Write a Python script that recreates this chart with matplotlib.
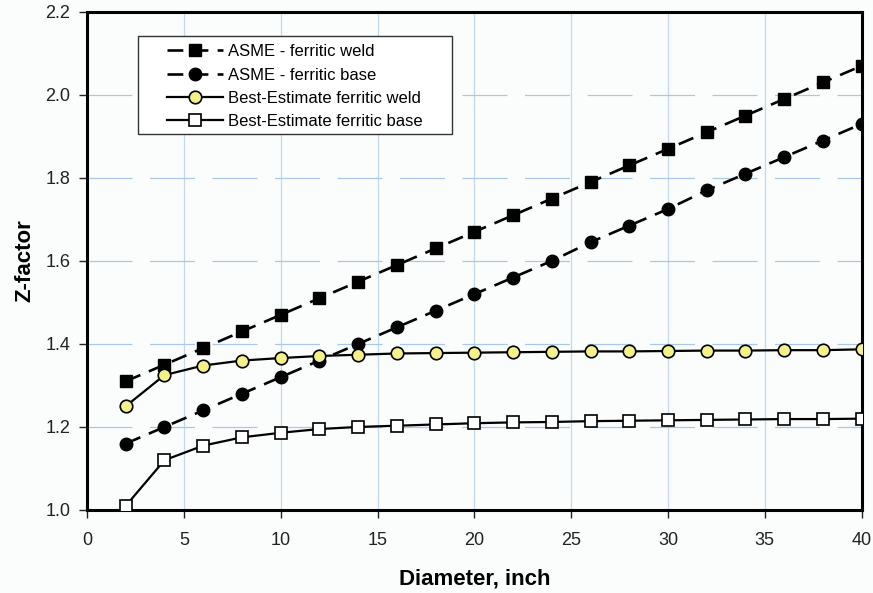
import matplotlib.pyplot as plt
import numpy as np
from matplotlib.patches import Rectangle

plt.rcParams['font.family'] = ['Liberation Sans', 'DejaVu Sans']

diameter = [2, 4, 6, 8, 10, 12, 14, 16, 18, 20, 22, 24, 26, 28, 30, 32, 34, 36, 38, 40]
asme_weld = [1.31, 1.35, 1.39, 1.43, 1.47, 1.51, 1.55, 1.59, 1.63, 1.67,
             1.71, 1.75, 1.79, 1.83, 1.87, 1.91, 1.95, 1.99, 2.03, 2.07]
asme_base = [1.16, 1.20, 1.24, 1.28, 1.32, 1.36, 1.40, 1.44, 1.48, 1.52,
             1.56, 1.60, 1.645, 1.685, 1.725, 1.77, 1.81, 1.85, 1.89, 1.93]
be_weld = [1.25, 1.325, 1.348, 1.36, 1.366, 1.371, 1.374, 1.377, 1.378, 1.379,
           1.380, 1.381, 1.382, 1.382, 1.383, 1.384, 1.384, 1.385, 1.385, 1.387]
be_base = [1.01, 1.12, 1.155, 1.175, 1.186, 1.195, 1.200, 1.203, 1.206, 1.209,
           1.211, 1.212, 1.214, 1.215, 1.216, 1.217, 1.218, 1.219, 1.219, 1.220]

fig = plt.figure(figsize=(8.73, 5.93), dpi=100)
fig.patch.set_facecolor('#fbfcfc')
ax = fig.add_axes([0.0997, 0.140, 0.8873, 0.840])
ax.set_facecolor('#fbfdfd')

dash = (0, (6, 3.5))
ax.plot(diameter, asme_weld, color='black', lw=1.9, linestyle=dash, marker='s',
        ms=9, mfc='black', mec='black', label='ASME - ferritic weld', zorder=3)
ax.plot(diameter, asme_base, color='black', lw=1.9, linestyle=dash, marker='o',
        ms=9, mfc='black', mec='black', label='ASME - ferritic base', zorder=3)
ax.plot(diameter, be_weld, color='black', lw=1.6, marker='o', ms=9,
        mfc='#f4f08a', mec='black', mew=1.2, label='Best-Estimate ferritic weld', zorder=4)
ax.plot(diameter, be_base, color='black', lw=1.6, marker='s', ms=9,
        mfc='white', mec='black', mew=1.2, label='Best-Estimate ferritic base', zorder=4)

ax.set_xlim(0, 40)
ax.set_ylim(1.0, 2.2)
ax.set_xticks(np.arange(0, 41, 5))
ax.set_yticks(np.arange(1.0, 2.21, 0.2))
ax.yaxis.set_major_formatter(plt.FormatStrFormatter('%.1f'))
ax.grid(True, axis='y', color='#a9c8e6', linestyle=(0, (36, 14)), lw=0.9)
ax.grid(True, axis='x', color='#c3d8ec', linestyle='-', lw=0.9)
ax.set_axisbelow(True)

for s in ax.spines.values():
    s.set_linewidth(2.2)
ax.tick_params(axis='both', labelsize=13, width=1.0, length=6, direction='out', colors='#222222')
ax.tick_params(axis='x', pad=10)
ax.tick_params(axis='y', pad=6)

ax.set_xlabel('Diameter, inch', fontsize=16, fontweight='bold', labelpad=14)
ax.set_ylabel('Z-factor', fontsize=16, fontweight='bold', labelpad=7)

# legend box drawn separately so the padding matches the original
ax.add_patch(Rectangle((0.0658, 0.755), 0.405, 0.197, transform=ax.transAxes,
                       facecolor='white', edgecolor='#333333', lw=1.0, zorder=5))
leg = ax.legend(loc='upper left', bbox_to_anchor=(0.103, 0.935), fontsize=12,
                frameon=False, handlelength=3.4, borderpad=0, labelspacing=0.5,
                handletextpad=0.25, borderaxespad=0)
leg.set_zorder(6)

fig.savefig('out.png', dpi=100, facecolor=fig.get_facecolor())
